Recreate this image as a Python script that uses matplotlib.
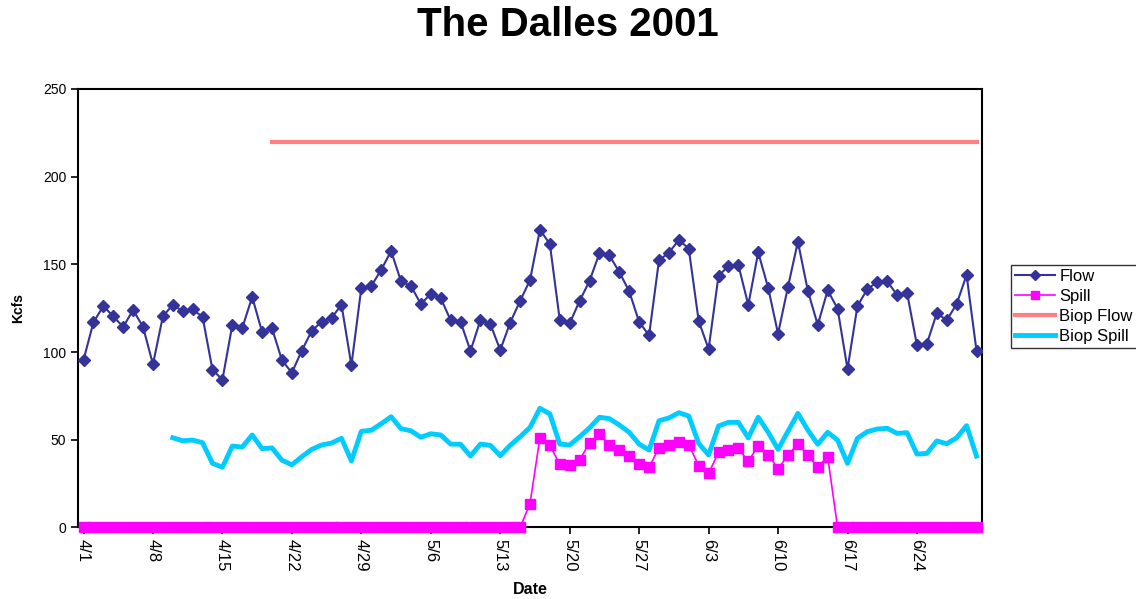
import matplotlib
matplotlib.use("Agg")
import matplotlib.pyplot as plt
import numpy as np
import pandas as pd

plt.rcParams['font.family'] = ['Liberation Sans', 'DejaVu Sans']

# daily values, 4/1 .. 6/30 2001 (Kcfs)
dates = pd.date_range('2001-04-01', '2001-06-30', freq='D')

flow = [95.4, 116.9, 126.2, 120.3, 114.3, 124.0, 114.3, 93.0, 120.3, 127.0,
        123.2, 124.3, 120.0, 89.9, 84.2, 115.4, 113.7, 131.4, 111.4, 113.5,
        95.3, 88.2, 100.8, 112.0, 117.3, 119.4, 127.0, 92.4, 136.5, 137.6,
        146.8, 157.6, 140.3, 137.6, 127.4, 133.1, 130.8, 118.1, 117.3, 100.6,
        118.1, 116.0, 101.1, 116.7, 129.1, 141.0, 169.7, 161.6, 118.2, 116.4,
        129.1, 140.5, 156.4, 155.1, 145.6, 134.6, 117.1, 109.5, 152.3, 156.6,
        163.9, 158.9, 117.7, 101.7, 143.5, 148.9, 149.6, 126.8, 156.8, 136.7,
        110.4, 137.2, 162.9, 135.0, 115.4, 135.2, 124.7, 90.3, 126.2, 135.9,
        139.9, 140.3, 132.5, 133.8, 103.8, 104.7, 122.2, 118.1, 127.4, 143.9,
        100.7]

spill = [0.0] * 45 + [13.5, 51.1, 46.8, 36.0, 35.4, 38.6, 48.1, 53.2, 47.2, 44.1,
                      40.7, 36.3, 34.3, 45.4, 47.2, 48.9, 47.2, 35.2, 30.8, 42.8,
                      44.1, 45.1, 37.7, 46.6, 41.5, 33.5, 41.1, 47.7, 41.1, 34.3,
                      40.3] + [0.0] * 15

# biop flow target from 4/20 on
biop_flow_start = 19
biop_flow = [220.0] * (91 - biop_flow_start)

# biop spill from 4/10 on
biop_spill_start = 9
biop_spill = [51.1, 49.4, 49.8, 48.3, 36.5, 34.3, 46.4, 45.8, 52.7, 44.9,
              45.3, 38.3, 35.7, 40.3, 44.5, 47.0, 48.1, 50.8, 37.9, 54.8,
              55.4, 59.1, 63.1, 56.3, 55.1, 51.4, 53.4, 52.7, 47.5, 47.4,
              40.7, 47.5, 46.8, 40.9, 46.8, 51.7, 57.0, 67.9, 64.7, 47.5,
              47.0, 51.7, 56.8, 62.8, 62.0, 58.4, 54.2, 47.5, 44.1, 60.8,
              62.4, 65.4, 63.5, 47.9, 41.3, 57.8, 59.9, 59.9, 51.1, 62.8,
              54.3, 44.5, 54.8, 65.0, 55.5, 47.4, 54.2, 49.8, 36.5, 50.8,
              54.6, 56.1, 56.5, 53.6, 54.0, 41.8, 42.2, 49.3, 47.7, 51.1,
              58.0, 40.7]

tick_labels = ['4/1', '4/8', '4/15', '4/22', '4/29', '5/6', '5/13',
               '5/20', '5/27', '6/3', '6/10', '6/17', '6/24']

x = np.arange(len(dates))

fig = plt.figure(figsize=(11.36, 5.99), dpi=100)
ax = fig.add_axes([0.0687, 0.1195, 0.7957, 0.7321])

l_flow, = ax.plot(x, flow, color='#333399', lw=1.5, marker='D', ms=6.5,
                  zorder=4, label='Flow')
l_spill, = ax.plot(x, spill, color='#FF00FF', lw=1.2, marker='s', ms=6.5,
                   zorder=5, clip_on=False, label='Spill')
l_bf, = ax.plot(x[biop_flow_start:], biop_flow, color='#FF8080', lw=3,
                zorder=3, label='Biop Flow')
l_bs, = ax.plot(x[biop_spill_start:], biop_spill, color='#00CCFF', lw=3.5,
                zorder=3, label='Biop Spill')

ax.set_xlim(-0.55, 90.55)
ax.set_ylim(0, 250)
ax.set_yticks(np.arange(0, 251, 50))
ax.set_xticks(np.arange(0, 91, 7))
ax.set_xticklabels(tick_labels, rotation=-90, fontsize=12)
ax.tick_params(axis='y', labelsize=10, direction='out', length=5, width=1.2)
ax.tick_params(axis='x', direction='out', length=5, width=1.2, pad=3)
for s in ax.spines.values():
    s.set_linewidth(1.5)
    s.set_color('black')

ax.set_ylabel('Kcfs', fontsize=10, fontweight='bold', labelpad=13)
ax.set_xlabel('Date', fontsize=11.5, fontweight='bold', labelpad=8)
fig.suptitle('The Dalles 2001', fontsize=29, fontweight='bold', y=0.99)

leg = fig.legend(handles=[l_flow, l_spill, l_bf, l_bs],
                 loc='upper left', bbox_to_anchor=(0.89, 0.558),
                 borderaxespad=0, fontsize=12, frameon=True, fancybox=False,
                 borderpad=0.25, labelspacing=0.3, handlelength=2.4,
                 handletextpad=0.25, markerscale=0.8)
leg.get_frame().set_edgecolor('black')
leg.get_frame().set_linewidth(1)

fig.savefig('out.png', dpi=100)
